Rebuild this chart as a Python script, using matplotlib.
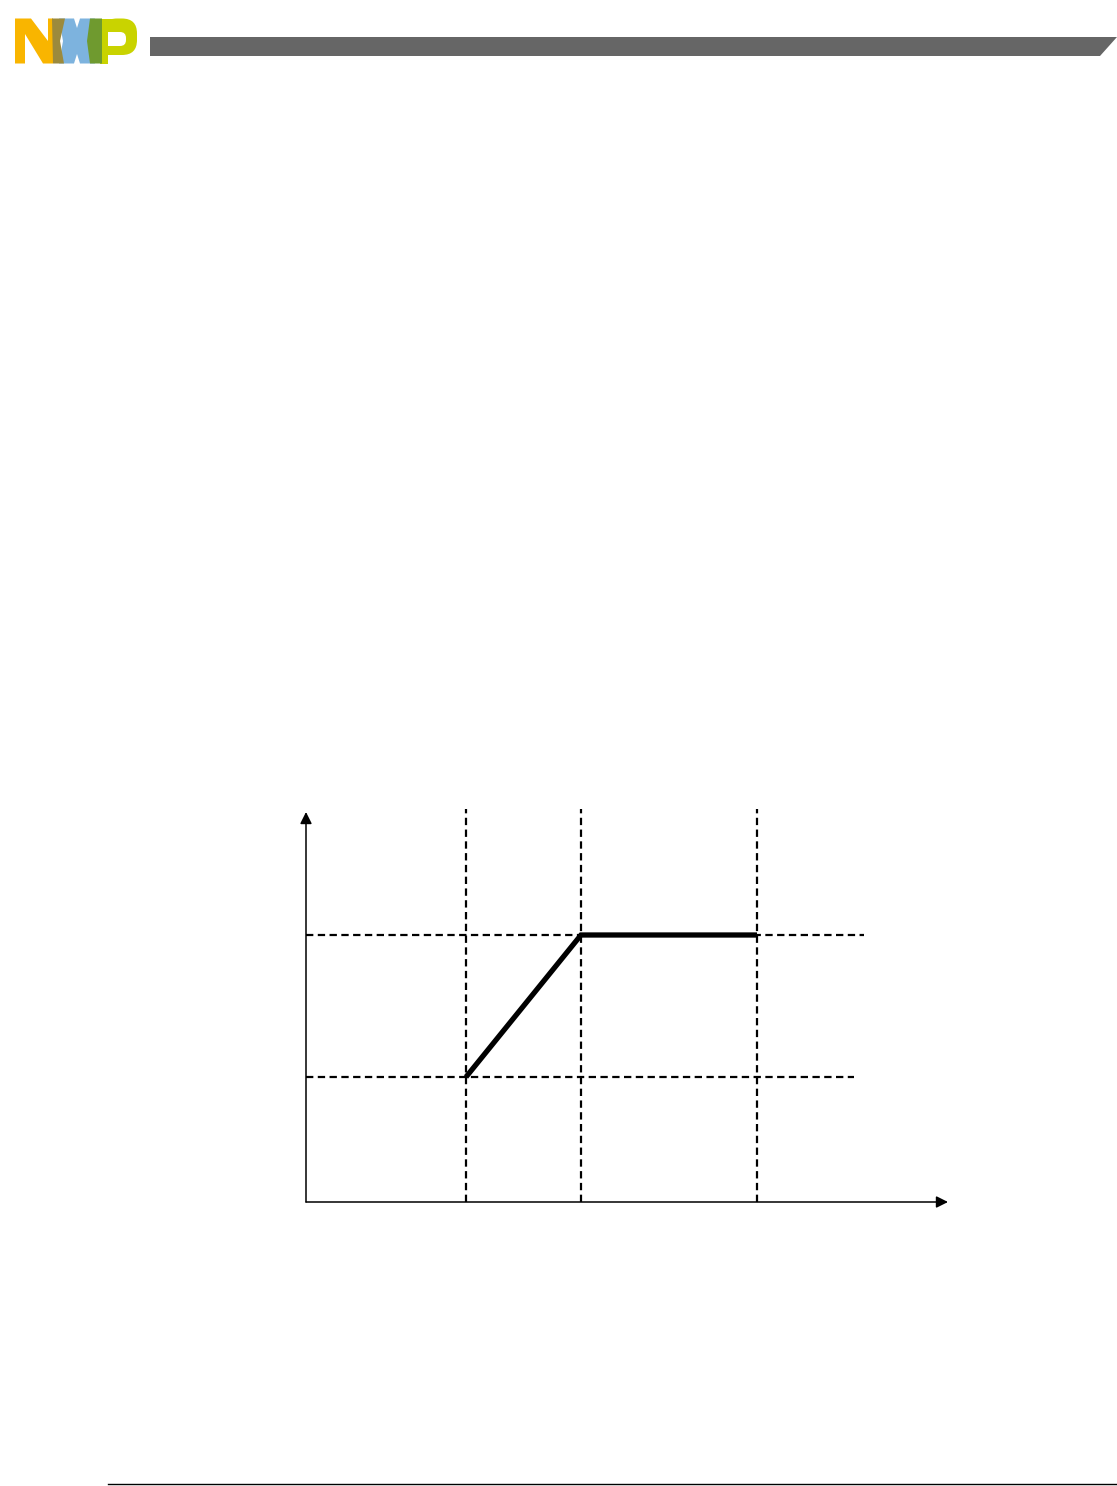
import matplotlib.pyplot as plt
import numpy as np
from matplotlib.patches import Polygon, Rectangle, FancyBboxPatch

# -------- DATA --------
# breakpoints of the piecewise curve (arbitrary units)
x_marks = [16.0, 27.5, 45.1]       # vertical dashed guides
y_marks = [12.5, 26.7]             # horizontal dashed guides
h_ends = [54.8, 55.8]              # where horizontal guides stop
curve_x = [16.0, 27.5, 45.1]
curve_y = [12.5, 26.7, 26.7]

W, H = 1117, 1486
fig = plt.figure(figsize=(W / 100, H / 100), dpi=100)

# -------- PAGE DECORATION (pixel coords) --------
bg = fig.add_axes([0, 0, 1, 1])
bg.set_xlim(0, W)
bg.set_ylim(H, 0)
bg.axis('off')

# header bar
bg.add_patch(Polygon([(150, 37), (1117, 37), (1100, 56), (150, 56)],
                     closed=True, color='#666666', lw=0))
# footer rule
bg.plot([108, 1117], [1484, 1484], color='black', lw=1.0)

# -------- NXP LOGO --------
yellow, olive, blue, green, lime = '#F9B500', '#9C8A3C', '#7DB3DE', '#6F9A2F', '#C9D300'
top, bot, mid = 18.5, 63.5, 41


def poly(pts, c):
    bg.add_patch(Polygon(pts, closed=True, color=c, lw=0))


# X (blue)
poly([(59, top), (74, top), (77, 28), (80, top), (95, top), (90, mid),
      (95, bot), (80, bot), (77, 54), (74, bot), (59, bot), (63, mid)], blue)
# N
poly([(15, top), (31, top), (48, 41), (48, top), (53, top), (53, bot),
      (43, bot), (25, 34), (25, bot), (15, bot)], yellow)
poly([(52, top), (65, top), (60, mid), (64, bot), (53, bot)], olive)
# P
bg.add_patch(FancyBboxPatch((102, top), 35, 55 - top,
                            boxstyle='round,pad=0,rounding_size=15',
                            color=lime, lw=0))
bg.add_patch(Rectangle((102, top), 18, 55 - top, color=lime, lw=0))
bg.add_patch(Rectangle((100, top), 8, bot - top, color=lime, lw=0))
bg.add_patch(FancyBboxPatch((108, 32), 18, 14,
                            boxstyle='round,pad=0,rounding_size=6',
                            color='white', lw=0))
bg.add_patch(Rectangle((108, 32), 8, 14, color='white', lw=0))
poly([(90, top), (102, top), (102, bot), (90, bot), (87, mid)], green)

# -------- CHART --------
# axes spans x 306..956 px, y 802..1202 px
ax = fig.add_axes([306 / W, 1 - 1202 / H, 650 / W, 400 / H])
ax.set_xlim(0, 65)
ax.set_ylim(0, 40)
ax.axis('off')

dash = (0, (3.3, 2.0))
for xv in x_marks:
    ax.plot([xv, xv], [0, 39.3], color='black', lw=1.6, linestyle=dash)
for yv, xe in zip(y_marks, h_ends):
    ax.plot([0, xe], [yv, yv], color='black', lw=1.6, linestyle=dash)

# axis arrows
head = dict(arrowstyle='-|>,head_length=0.7,head_width=0.35',
            color='black', lw=1.1, shrinkA=0, shrinkB=0)
ax.annotate('', xy=(64.2, 0), xytext=(0, 0), arrowprops=head)
ax.annotate('', xy=(0, 39.0), xytext=(0, 0), arrowprops=head)

ax.plot(curve_x, curve_y, color='black', lw=3.8, solid_joinstyle='miter',
        solid_capstyle='butt')

fig.savefig('out.png', dpi=100)
